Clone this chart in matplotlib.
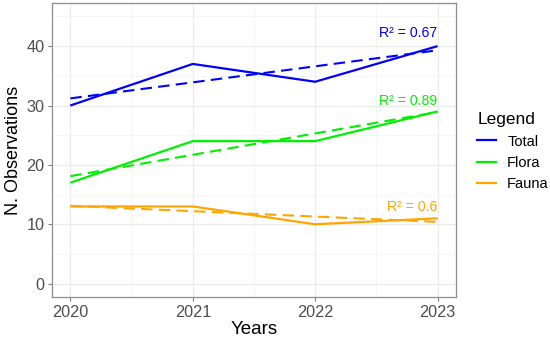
"""Observaciones por año con tendencia lineal."""

import matplotlib
matplotlib.use("Agg")
import matplotlib.pyplot as plt
from matplotlib.lines import Line2D
import numpy as np

plt.rcParams["font.family"] = ["Liberation Sans", "DejaVu Sans"]

years = [2020, 2021, 2022, 2023]
series_names = ["Total", "Flora", "Fauna"]
total = [30, 37, 34, 40]
flora = [17, 24, 24, 29]
fauna = [13, 13, 10, 11]
r2_labels = ["R² = 0.67", "R² = 0.89", "R² = 0.6"]
r2_label_y = [42.2, 30.8, 12.9]
colors = ["#0000FF", "#00F000", "#FFA500"]

fig = plt.figure(figsize=(5.5, 3.42), dpi=100)
ax = fig.add_axes([0.0945, 0.1316, 0.7345, 0.8594])

x = np.array(years, dtype=float)
for vals, col, lab, ly in zip([total, flora, fauna], colors, r2_labels, r2_label_y):
    ax.plot(x, vals, color=col, lw=1.6, solid_capstyle="butt", zorder=3)
    # recta de tendencia (mínimos cuadrados)
    slope, inter = np.polyfit(x, vals, 1)
    ax.plot(x, slope * x + inter, color=col, lw=1.5, ls=(0, (5.5, 3)), zorder=3)
    ax.text(x[-1], ly, lab, color=col, fontsize=10.2, ha="right", va="center")

ax.set_xlim(2019.85, 2023.15)
ax.set_ylim(-2.25, 47.25)
ax.set_xticks(years)
ax.set_yticks([0, 10, 20, 30, 40])
ax.set_xticks([2020.5, 2021.5, 2022.5], minor=True)
ax.set_yticks([5, 15, 25, 35, 45], minor=True)
ax.grid(True, which="major", color="#EBEBEB", lw=0.9, zorder=0)
ax.grid(True, which="minor", color="#F2F2F2", lw=0.5, zorder=0)
ax.set_axisbelow(True)
ax.tick_params(which="major", length=3, color="#7F7F7F", labelsize=11.7,
               labelcolor="#4D4D4D", width=0.8, pad=2.5)
ax.tick_params(which="minor", length=0)
for sp in ax.spines.values():
    sp.set_color("#8C8C8C")
    sp.set_linewidth(0.9)

ax.set_xlabel("Years", fontsize=13.5, labelpad=1)
ax.set_ylabel("N. Observations", fontsize=13, labelpad=3)

handles = [Line2D([0], [0], color=c, lw=1.6) for c in colors]
leg = fig.legend(handles, series_names, title="Legend", loc="upper left",
                 bbox_to_anchor=(0.844, 0.71), frameon=False, fontsize=10.5,
                 title_fontsize=12.5, handlelength=1.3, handletextpad=0.75,
                 labelspacing=0.5)
leg._legend_box.align = "left"

fig.savefig("out.png", dpi=100)
